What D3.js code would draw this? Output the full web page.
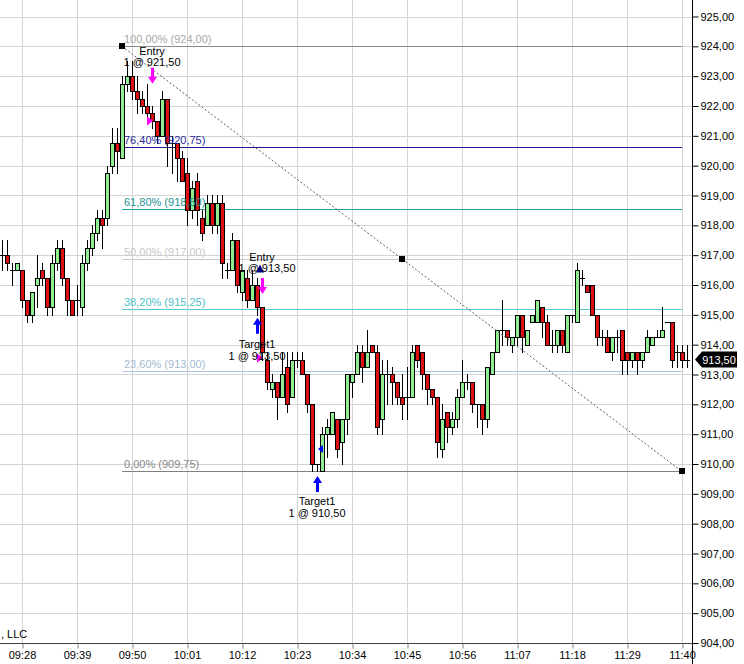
<!DOCTYPE html>
<html><head><meta charset="utf-8">
<script src="https://cdn.jsdelivr.net/npm/d3@7"></script>
<style>
body{margin:0;background:#fff}
svg{display:block;font-family:"Liberation Sans",Arial,sans-serif}
</style>
</head><body>
<svg id="c" width="744" height="664"></svg>
<script>
// ---------- DATA ----------
const startTime = "09:24"; // first 1-minute bar
const opens = [917.0,917.0,916.5,916.5,916.5,915.5,915.0,916.0,916.5,916.25,915.25,916.75,917.25,916.25,915.5,915.5,915.25,916.75,917.25,917.75,918.25,918.25,920.0,920.75,920.25,922.75,923.0,922.5,922.25,922.0,921.75,921.5,921.0,922.25,920.75,920.75,920.25,919.75,918.5,919.5,918.25,918.0,918.75,918.0,918.75,916.5,916.5,917.5,915.75,916.25,915.5,916.0,915.25,913.5,912.5,912.75,912.25,913.25,912.25,913.5,913.5,913.0,912.0,910.0,909.75,911.0,911.0,911.5,910.75,911.5,912.75,913.0,913.75,913.25,914.0,913.75,911.5,913.0,913.0,912.75,912.25,912.25,912.25,914.0,913.75,913.0,912.5,912.25,910.5,911.75,911.25,911.5,912.25,912.75,912.75,912.0,912.0,911.5,913.0,913.75,914.5,914.5,914.0,914.25,915.0,914.0,914.75,914.75,915.25,914.75,914.0,914.0,914.5,913.75,915.0,914.75,916.25,916.0,916.0,915.0,914.25,914.25,913.75,914.25,914.5,913.75,913.5,913.75,913.5,913.75,914.0,914.25,914.25,914.75,914.75,913.75,913.75,913.5];
const highs = [917.5,917.5,916.75,916.75,916.5,915.5,915.75,917.0,916.75,916.25,917.0,917.5,917.5,916.25,915.5,916.0,917.0,917.5,918.0,918.5,918.5,920.0,921.25,921.25,923.0,923.5,923.5,923.0,922.5,922.75,922.0,921.5,922.5,922.25,921.0,920.75,920.5,920.25,919.5,919.75,918.5,919.0,919.0,919.0,919.0,916.75,917.75,917.5,916.5,916.5,916.5,916.25,915.25,913.75,913.0,912.75,913.75,913.75,913.75,913.75,913.75,913.0,912.0,910.0,911.25,911.5,911.75,911.5,911.5,913.0,913.0,914.0,914.0,914.5,914.0,914.0,913.5,913.5,913.25,912.75,913.0,913.25,914.0,914.0,913.75,913.0,912.5,912.25,912.0,911.75,911.75,912.5,913.5,913.0,912.75,912.0,912.0,913.25,913.75,914.5,915.5,914.5,914.25,915.0,915.0,914.5,915.0,915.5,915.25,915.0,914.5,914.5,914.5,915.0,915.0,916.75,916.5,916.0,916.0,915.0,914.5,914.5,914.25,914.5,914.5,913.75,913.75,913.75,913.75,914.5,914.25,914.5,915.25,914.75,914.75,914.0,914.0,914.0];
const lows = [916.5,916.5,916.0,916.5,915.25,914.75,914.75,915.25,916.0,915.0,915.0,916.5,916.0,915.0,915.0,915.0,915.0,916.5,917.0,917.5,917.25,918.0,919.75,919.75,920.25,922.5,922.25,921.75,921.75,921.5,921.25,920.75,921.0,920.0,919.75,919.5,919.5,918.0,918.25,918.0,917.5,918.0,917.75,917.75,916.25,916.25,916.5,915.75,915.5,915.25,915.5,915.0,913.5,912.5,912.25,911.5,912.25,911.75,912.25,913.25,913.0,911.75,909.75,909.75,909.75,910.25,911.0,910.25,910.0,911.0,912.25,913.0,912.75,913.25,913.75,911.0,911.0,912.0,912.0,912.0,911.5,911.5,912.25,913.25,912.5,912.0,912.0,910.25,910.25,910.75,911.0,911.25,912.25,912.5,911.75,911.25,911.0,911.25,913.0,913.75,914.0,914.0,913.75,914.0,913.75,914.0,914.75,914.75,914.25,914.0,913.75,913.75,913.75,913.75,914.75,914.75,916.0,915.75,915.0,914.0,914.0,913.75,913.5,913.75,913.0,913.0,913.25,913.0,913.25,913.75,914.0,914.25,914.25,914.75,913.25,913.25,913.25,913.25];
const closes = [917.0,916.75,916.5,916.75,915.5,915.0,915.75,916.25,916.25,915.25,916.75,917.25,916.25,915.5,915.0,915.5,916.75,917.25,917.75,918.25,918.0,919.75,920.75,920.5,922.75,923.0,922.5,922.25,922.0,921.75,921.5,921.0,922.25,920.75,920.75,920.25,919.5,918.5,919.25,918.5,917.75,918.75,918.0,918.75,916.75,916.5,917.5,916.0,916.5,915.5,916.0,915.25,913.75,912.75,912.75,912.25,913.0,912.0,913.5,913.5,913.0,912.0,910.0,910.0,911.0,911.25,911.75,910.5,911.5,913.0,913.0,913.75,913.25,913.75,913.75,911.25,913.0,913.0,912.75,912.25,912.0,912.25,913.75,913.5,913.0,912.5,912.25,910.75,911.5,911.25,911.5,912.25,912.75,912.75,912.0,912.0,911.5,913.25,913.75,914.5,914.5,914.25,914.25,915.0,914.25,914.5,915.0,915.5,914.75,914.0,914.0,914.5,914.0,915.0,915.0,916.5,916.25,915.75,915.0,914.25,914.25,913.75,914.25,914.25,913.5,913.5,913.75,913.5,913.75,914.25,914.25,914.25,914.5,914.75,913.5,913.75,913.5,913.5];
const lastPrice = 913.5;

const priceTicks = [904,905,906,907,908,909,910,911,912,913,914,915,916,917,918,919,920,921,922,923,924,925];
const timeTicks = ["09:28","09:39","09:50","10:01","10:12","10:23","10:34","10:45","10:56","11:07","11:18","11:29","11:40"];

const fibHigh = 924.0, fibLow = 909.75;
const fibStart = "09:48", fibEnd = "11:40";
const fibRatios = [1, 0.764, 0.618, 0.5, 0.382, 0.236, 0];
const fibLabels = ["100,00% (924,00)","76,40% (920,75)","61,80% (918,50)","50,00% (917,00)","38,20% (915,25)","23,60% (913,00)","0,00% (909,75)"];
const fibLineColors = ["#8a8a8a","#1c1c8c","#20a0a0","#c8c8c8","#56c8d0","#b0c4de","#808080"];
const fibTextColors = ["#a8a8a8","#2a2a96","#1a9292","#c8c8c8","#50c0c8","#a4b8d0","#888888"];

// trade annotations: time, price
const arrows = [
  {t:"09:54", p:922.75, dir:"down", color:"#ff00ff"},
  {t:"10:16", p:915.7,  dir:"down", color:"#ff00ff"},
  {t:"10:15", p:914.9,  dir:"up",   color:"#0000ff"},
  {t:"10:27", p:909.6,  dir:"up",   color:"#0000ff"}
];
const fills = [
  {t:"09:54", p:921.5, dir:"right", color:"#ff00ff"},
  {t:"10:16", p:913.55, dir:"right", color:"#ff00ff"},
  {t:"10:27", p:910.5, dir:"left", color:"#0000ff"},
  {t:"10:16", p:916.55, dir:"upsmall", color:"#000080"}
];
const labels = [
  {t:"09:54", p:923.72, text:"Entry"},
  {t:"09:54", p:923.34, text:"1 @ 921,50"},
  {t:"10:16", p:916.82, text:"Entry"},
  {t:"10:17", p:916.42, text:"1 @ 913,50"},
  {t:"10:15", p:913.90, text:"Target1"},
  {t:"10:15", p:913.50, text:"1 @ 913,50"},
  {t:"10:27", p:908.64, text:"Target1"},
  {t:"10:27", p:908.24, text:"1 @ 910,50"}
];

// ---------- CHART ----------
const W = 744, H = 664;
const plotRight = 692, plotBottom = 643;
const parse = d3.timeParse("%H:%M");
const fmt = d3.timeFormat("%H:%M");
const x = d3.scaleTime().domain([parse("09:28"), parse("11:40")]).range([22, 682]);
const y = d3.scaleLinear().domain([904, 925]).range([643, 16.5]);
const t0 = parse(startTime);
const bars = opens.map((o,i)=>({t:d3.timeMinute.offset(t0,i), o, h:highs[i], l:lows[i], c:closes[i]}));
const px = v => Math.round(v) + 0.5;

const svg = d3.select("#c");
svg.append("defs").append("clipPath").attr("id","plot")
  .append("rect").attr("x",0).attr("y",0).attr("width",plotRight).attr("height",plotBottom);

// grid
const grid = svg.append("g").attr("stroke","#d4d4d4").attr("stroke-width",1);
grid.selectAll("line.h").data(priceTicks).join("line").attr("class","h")
  .attr("x1",0).attr("x2",plotRight).attr("y1",d=>px(y(d))).attr("y2",d=>px(y(d)));
grid.selectAll("line.v").data(timeTicks).join("line").attr("class","v")
  .attr("x1",d=>px(x(parse(d)))).attr("x2",d=>px(x(parse(d)))).attr("y1",0).attr("y2",plotBottom);

const plot = svg.append("g").attr("clip-path","url(#plot)");

// fib lines
const fx1 = x(parse(fibStart)), fx2 = x(parse(fibEnd));
const fibs = fibRatios.map((r,i)=>({p: fibLow + r*(fibHigh-fibLow), label: fibLabels[i], lc: fibLineColors[i], tc: fibTextColors[i]}));
plot.selectAll("line.fib").data(fibs).join("line").attr("class","fib")
  .attr("x1",fx1).attr("x2",fx2).attr("y1",d=>px(y(d.p))).attr("y2",d=>px(y(d.p)))
  .style("stroke",d=>d.lc).attr("stroke-width",1);

// candles
const cg = plot.append("g");
bars.forEach(b=>{
  const cx = Math.round(x(b.t));
  cg.append("line").attr("x1",cx+0.5).attr("x2",cx+0.5)
    .attr("y1",Math.round(y(b.h))).attr("y2",Math.round(y(b.l))+1)
    .attr("stroke","#000").attr("stroke-width",1);
  if (b.o === b.c) {
    cg.append("line").attr("x1",cx-2).attr("x2",cx+3)
      .attr("y1",px(y(b.o))).attr("y2",px(y(b.o))).attr("stroke","#000");
  } else {
    const top = Math.round(y(Math.max(b.o,b.c))), bot = Math.round(y(Math.min(b.o,b.c)));
    cg.append("rect").attr("x",cx-2+0.5).attr("y",top+0.5)
      .attr("width",4).attr("height",Math.max(1,bot-top))
      .attr("fill", b.c > b.o ? "#90ee90" : "#dc1010")
      .attr("stroke","#000").attr("stroke-width",1);
  }
});

// fib labels
plot.selectAll("text.fib").data(fibs).join("text").attr("class","fib")
  .attr("x",fx1+2).attr("y",d=>Math.round(y(d.p))-3)
  .attr("fill",d=>d.tc).attr("font-size",11).text(d=>d.label);

// diagonal + anchors
const anchors = [
  {t:parse(fibStart), p:fibHigh},
  {t:new Date((parse(fibStart).getTime()+parse(fibEnd).getTime())/2), p:(fibHigh+fibLow)/2},
  {t:parse(fibEnd), p:fibLow}
];
plot.append("line").attr("x1",x(anchors[0].t)).attr("y1",y(anchors[0].p))
  .attr("x2",x(anchors[2].t)).attr("y2",y(anchors[2].p))
  .attr("stroke","#606060").attr("stroke-width",1).attr("stroke-dasharray","2,2");
plot.selectAll("rect.anc").data(anchors).join("rect").attr("class","anc")
  .attr("x",d=>Math.round(x(d.t))-3).attr("y",d=>Math.round(y(d.p))-3)
  .attr("width",6).attr("height",6).attr("fill","#000");

// arrows
arrows.forEach(a=>{
  const cx = Math.round(x(parse(a.t)))+0.5, ty = y(a.p);
  const s = a.dir==="down" ? -1 : 1;
  const headEnd = ty + s*7, tail = ty + s*16;
  const pts = [[cx,ty],[cx-4.5,headEnd],[cx-1.5,headEnd],[cx-1.5,tail],[cx+1.5,tail],[cx+1.5,headEnd],[cx+4.5,headEnd]];
  plot.append("polygon").attr("points",pts.map(p=>p.join(",")).join(" ")).attr("fill",a.color);
});
fills.forEach(f=>{
  const cx = x(parse(f.t)), cy = y(f.p);
  let pts;
  if (f.dir==="right") pts=[[cx+1,cy],[cx-5,cy-4.5],[cx-5,cy+4.5]];
  else if (f.dir==="left") pts=[[cx+1,cy],[cx+6,cy-4],[cx+6,cy+4]];
  else pts=[[cx-2,cy-4],[cx-6,cy+4],[cx+2,cy+4]];
  plot.append("polygon").attr("points",pts.map(p=>p.join(",")).join(" ")).attr("fill",f.color);
});
plot.selectAll("text.lbl").data(labels).join("text").attr("class","lbl")
  .attr("x",d=>x(parse(d.t))).attr("y",d=>y(d.p)).attr("text-anchor","middle")
  .attr("font-size",11).attr("fill","#000").text(d=>d.text);

// right axis
const yAxis = d3.axisRight(y).tickValues(priceTicks).tickSize(6).tickPadding(2)
  .tickFormat(d=>d.toFixed(2).replace(".",","));
const ya = svg.append("g").attr("transform",`translate(${plotRight+0.5},0)`).call(yAxis);
ya.select(".domain").remove();
ya.selectAll("text").attr("font-size",11).attr("fill","#000").attr("font-family","Liberation Sans, Arial, sans-serif");
svg.append("line").attr("x1",plotRight+0.5).attr("x2",plotRight+0.5).attr("y1",0).attr("y2",H)
  .attr("stroke","#000");

// bottom axis
const xAxis = d3.axisBottom(x).tickValues(timeTicks.map(parse)).tickSize(5).tickPadding(3).tickFormat(fmt);
const xa = svg.append("g").attr("transform",`translate(0,${plotBottom+0.5})`).call(xAxis);
xa.select(".domain").attr("d",`M0,0H${plotRight}`).attr("stroke","#404040");
xa.selectAll(".tick line").attr("stroke","#808080").attr("transform","translate(0.5,0)");
xa.selectAll("text").attr("font-size",11).attr("fill","#000").attr("font-family","Liberation Sans, Arial, sans-serif");

// last price tag
const ly = y(lastPrice);
svg.append("polygon").attr("points",`${plotRight+3},${ly} ${plotRight+10},${ly-8} 737,${ly-8} 737,${ly+8} ${plotRight+10},${ly+8}`)
  .attr("fill","#000");
svg.append("text").attr("x",719).attr("y",ly+4).attr("text-anchor","middle").attr("fill","#fff")
  .attr("font-size",11).text(lastPrice.toFixed(2).replace(".",","));

// watermark fragment
svg.append("text").attr("x",1).attr("y",638).attr("font-size",11).attr("fill","#000").text(", LLC");
</script>
</body></html>
